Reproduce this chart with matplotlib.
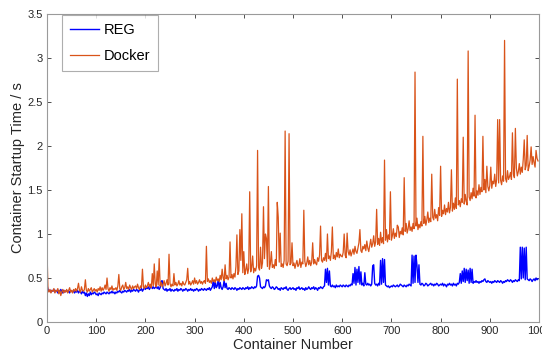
import numpy as np
import matplotlib
matplotlib.use("Agg")
import matplotlib.pyplot as plt

plt.rcParams['font.family'] = ['Liberation Sans', 'DejaVu Sans']

# container numbers (sampled every 2 containers)
containers = np.arange(0, 1000, 2)

docker = [
    0.82, 0.36, 0.34, 0.37, 0.33, 0.36, 0.35, 0.38, 0.33, 0.36,
    0.35, 0.38, 0.32, 0.36, 0.30, 0.34, 0.37, 0.33, 0.36, 0.34,
    0.37, 0.33, 0.36, 0.39, 0.34, 0.36, 0.33, 0.37, 0.35, 0.38,
    0.35, 0.38, 0.44, 0.36, 0.34, 0.40, 0.36, 0.35, 0.37, 0.48,
    0.36, 0.34, 0.38, 0.35, 0.37, 0.39, 0.34, 0.36, 0.38, 0.35,
    0.37, 0.34, 0.38, 0.36, 0.40, 0.35, 0.39, 0.36, 0.38, 0.42,
    0.37, 0.50, 0.38, 0.35, 0.39, 0.37, 0.41, 0.36, 0.38, 0.37,
    0.39, 0.36, 0.41, 0.54, 0.38, 0.36, 0.40, 0.42, 0.37, 0.39,
    0.45, 0.38, 0.40, 0.37, 0.42, 0.39, 0.37, 0.41, 0.38, 0.40,
    0.41, 0.38, 0.43, 0.39, 0.37, 0.41, 0.39, 0.60, 0.40, 0.38,
    0.42, 0.39, 0.41, 0.45, 0.40, 0.43, 0.39, 0.55, 0.41, 0.66,
    0.43, 0.40, 0.58, 0.42, 0.72, 0.41, 0.45, 0.40, 0.43, 0.47,
    0.41, 0.44, 0.48, 0.42, 0.77, 0.44, 0.40, 0.43, 0.41, 0.55,
    0.42, 0.45, 0.41, 0.43, 0.47, 0.42, 0.44, 0.41, 0.46, 0.43,
    0.42, 0.45, 0.48, 0.61, 0.43, 0.46, 0.42, 0.44, 0.47, 0.43,
    0.50, 0.44, 0.47, 0.43, 0.45, 0.48, 0.44, 0.46, 0.43, 0.46,
    0.47, 0.44, 0.86, 0.46, 0.49, 0.45, 0.47, 0.44, 0.50, 0.46,
    0.48, 0.45, 0.51, 0.47, 0.49, 0.46, 0.53, 0.48, 0.60, 0.50,
    0.47, 0.65, 0.49, 0.53, 0.48, 0.51, 0.91, 0.50, 0.54, 0.49,
    0.55, 0.51, 0.63, 0.99, 0.54, 0.58, 1.05, 0.70, 1.23, 0.56,
    0.80, 0.54, 0.59, 0.66, 0.55, 0.61, 1.48, 0.57, 0.62, 0.75,
    0.56, 0.61, 0.58, 0.64, 1.95, 0.62, 0.59, 0.85, 0.61, 0.67,
    1.31, 0.72, 1.00, 0.95, 0.63, 1.54, 0.60, 0.66, 0.80, 0.62,
    0.65, 0.61, 0.71, 0.64, 1.36, 1.19, 0.68, 1.01, 0.63, 0.66,
    0.62, 0.70, 2.17, 0.66, 0.64, 0.69, 2.14, 0.65, 0.67, 0.90,
    0.64, 0.67, 0.61, 0.66, 0.70, 0.63, 0.65, 0.72, 0.62, 0.68,
    0.66, 1.27, 0.69, 0.63, 0.67, 0.74, 0.65, 0.70, 0.64, 0.68,
    0.90, 0.66, 0.71, 0.67, 0.65, 0.73, 0.69, 0.76, 1.09, 0.70,
    0.68, 0.73, 0.70, 0.78, 0.69, 1.00, 0.72, 0.75, 0.70, 0.80,
    1.08, 0.72, 0.76, 0.71, 0.79, 0.74, 0.83, 0.73, 0.77, 0.75,
    0.74, 0.79, 1.00, 0.76, 0.73, 1.01, 0.80, 0.76, 0.82, 0.75,
    0.79, 0.83, 0.77, 0.86, 0.80, 0.78, 0.84, 0.90, 1.05, 0.81,
    0.79, 0.86, 0.83, 0.88, 0.81, 0.92, 0.84, 0.80, 0.87, 0.94,
    0.85, 0.89, 0.98, 0.86, 0.91, 1.28, 0.88, 0.95, 0.87, 1.02,
    0.90, 0.96, 0.89, 1.84, 0.93, 1.05, 0.91, 0.99, 0.94, 1.48,
    0.93, 0.98, 1.06, 0.95, 1.01, 0.97, 1.10, 1.08, 0.96, 1.03,
    1.00, 1.07, 0.99, 1.64, 1.03, 1.12, 1.01, 1.06, 1.15, 1.04,
    1.08, 1.03, 1.12, 1.06, 2.84, 1.09, 1.18, 1.05, 1.11, 1.07,
    1.14, 1.09, 2.11, 1.12, 1.20, 1.10, 1.16, 1.25, 1.13, 1.18,
    1.14, 1.68, 1.19, 1.16, 1.28, 1.18, 1.22, 1.15, 1.30, 1.21,
    1.77, 1.20, 1.27, 1.23, 1.33, 1.22, 1.29, 1.25, 1.36, 1.24,
    1.30, 1.73, 1.26, 1.35, 1.28, 1.41, 1.29, 2.76, 1.33, 1.38,
    1.31, 1.40, 1.36, 2.10, 1.34, 1.45, 1.37, 1.33, 3.08, 1.42,
    1.38, 1.47, 1.40, 1.52, 1.43, 2.35, 1.41, 1.49, 1.44, 1.56,
    1.45, 1.53, 1.48, 2.11, 1.50, 1.62, 1.47, 1.77, 1.54, 1.49,
    1.55, 1.76, 1.52, 1.60, 1.57, 1.68, 1.54, 1.62, 2.30, 1.58,
    2.30, 1.61, 1.56, 1.66, 1.60, 3.20, 1.63, 1.59, 1.72, 1.62,
    1.65, 1.70, 1.62, 2.15, 1.68, 1.64, 2.20, 1.75, 1.66, 1.71,
    1.80, 1.68, 1.76, 1.70, 1.85, 2.07, 1.73, 1.78, 2.12, 1.72,
    1.77, 1.84, 1.99, 1.79, 1.88, 1.81, 1.76, 1.95, 1.86, 1.83,
]

reg = [
    0.42, 0.37, 0.35, 0.36, 0.34, 0.36, 0.35, 0.37, 0.34, 0.36,
    0.35, 0.33, 0.36, 0.34, 0.37, 0.35, 0.33, 0.36, 0.34, 0.35,
    0.36, 0.34, 0.35, 0.33, 0.36, 0.35, 0.34, 0.36, 0.33, 0.35,
    0.34, 0.36, 0.33, 0.35, 0.34, 0.32, 0.35, 0.33, 0.34, 0.30,
    0.33, 0.29, 0.32, 0.30, 0.34, 0.31, 0.33, 0.32, 0.34, 0.33,
    0.31, 0.32, 0.30, 0.33, 0.32, 0.31, 0.33, 0.32, 0.34, 0.33,
    0.32, 0.34, 0.33, 0.32, 0.34, 0.33, 0.35, 0.33, 0.34, 0.32,
    0.34, 0.33, 0.35, 0.34, 0.36, 0.34, 0.33, 0.35, 0.34, 0.36,
    0.35, 0.34, 0.36, 0.35, 0.37, 0.34, 0.36, 0.35, 0.37, 0.36,
    0.35, 0.37, 0.36, 0.34, 0.37, 0.36, 0.38, 0.35, 0.37, 0.39,
    0.37, 0.39, 0.38, 0.40, 0.37, 0.39, 0.41, 0.38, 0.40, 0.38,
    0.39, 0.41, 0.38, 0.40, 0.37, 0.39, 0.46, 0.47, 0.38, 0.37,
    0.36, 0.38, 0.35, 0.37, 0.36, 0.38, 0.35, 0.37, 0.36, 0.35,
    0.37, 0.36, 0.38, 0.35, 0.37, 0.36, 0.38, 0.37, 0.35, 0.37,
    0.36, 0.38, 0.37, 0.35, 0.37, 0.36, 0.38, 0.36, 0.37, 0.35,
    0.37, 0.36, 0.38, 0.37, 0.35, 0.37, 0.36, 0.38, 0.37, 0.36,
    0.38, 0.37, 0.36, 0.38, 0.37, 0.39, 0.36, 0.38, 0.40, 0.47,
    0.38, 0.46, 0.39, 0.41, 0.48, 0.38, 0.45, 0.39, 0.37, 0.40,
    0.47, 0.39, 0.44, 0.38, 0.37, 0.39, 0.38, 0.37, 0.39, 0.38,
    0.37, 0.39, 0.38, 0.36, 0.38, 0.37, 0.39, 0.38, 0.37, 0.39,
    0.38, 0.37, 0.39, 0.38, 0.40, 0.37, 0.39, 0.38, 0.40, 0.39,
    0.38, 0.40, 0.39, 0.41, 0.52, 0.53, 0.50, 0.40, 0.39, 0.38,
    0.40, 0.39, 0.41, 0.48, 0.47, 0.48, 0.41, 0.39, 0.38, 0.40,
    0.39, 0.37, 0.38, 0.40, 0.39, 0.37, 0.38, 0.36, 0.39, 0.38,
    0.37, 0.39, 0.38, 0.40, 0.37, 0.36, 0.38, 0.39, 0.37, 0.38,
    0.39, 0.37, 0.38, 0.36, 0.39, 0.38, 0.40, 0.37, 0.38, 0.39,
    0.37, 0.38, 0.36, 0.39, 0.37, 0.38, 0.40, 0.38, 0.37, 0.39,
    0.38, 0.40, 0.37, 0.39, 0.38, 0.36, 0.39, 0.38, 0.40, 0.39,
    0.38, 0.40, 0.41, 0.60, 0.45, 0.61, 0.42, 0.58, 0.41, 0.40,
    0.42, 0.40, 0.41, 0.39, 0.42, 0.40, 0.41, 0.40, 0.42, 0.41,
    0.40, 0.42, 0.41, 0.40, 0.42, 0.41, 0.40, 0.42, 0.41, 0.43,
    0.42, 0.55, 0.44, 0.62, 0.42, 0.60, 0.45, 0.63, 0.43, 0.57,
    0.42, 0.44, 0.41, 0.56, 0.43, 0.42, 0.44, 0.42, 0.43, 0.41,
    0.43, 0.64, 0.65, 0.44, 0.42, 0.43, 0.41, 0.44, 0.42, 0.70,
    0.43, 0.72, 0.45, 0.71, 0.42, 0.41, 0.40, 0.41, 0.39, 0.40,
    0.41, 0.40, 0.42, 0.41, 0.40, 0.41, 0.42, 0.40, 0.41, 0.43,
    0.42, 0.41, 0.40, 0.42, 0.41, 0.40, 0.42, 0.41, 0.43, 0.42,
    0.41, 0.76, 0.44, 0.75, 0.45, 0.76, 0.64, 0.45, 0.65, 0.43,
    0.42, 0.44, 0.43, 0.41, 0.42, 0.44, 0.43, 0.41, 0.42, 0.43,
    0.44, 0.42, 0.43, 0.41, 0.43, 0.42, 0.44, 0.43, 0.41, 0.42,
    0.43, 0.42, 0.44, 0.41, 0.43, 0.42, 0.40, 0.43, 0.42, 0.44,
    0.42, 0.43, 0.41, 0.44, 0.42, 0.43, 0.41, 0.44, 0.43, 0.45,
    0.55, 0.44, 0.58, 0.46, 0.61, 0.45, 0.60, 0.47, 0.59, 0.44,
    0.61, 0.45, 0.60, 0.44, 0.46, 0.45, 0.47, 0.45, 0.46, 0.44,
    0.46, 0.45, 0.47, 0.46, 0.48, 0.49, 0.46, 0.45, 0.47, 0.46,
    0.45, 0.46, 0.44, 0.46, 0.45, 0.47, 0.46, 0.45, 0.47, 0.46,
    0.45, 0.47, 0.46, 0.44, 0.46, 0.45, 0.47, 0.46, 0.48, 0.47,
    0.46, 0.48, 0.47, 0.45, 0.47, 0.46, 0.48, 0.47, 0.46, 0.48,
    0.47, 0.85, 0.49, 0.85, 0.50, 0.84, 0.48, 0.85, 0.49, 0.48,
    0.47, 0.49, 0.48, 0.46, 0.48, 0.49, 0.47, 0.50, 0.48, 0.49,
]

series_names = ["REG", "Docker"]
x_ticks = list(range(0, 1001, 100))
y_ticks = [0, 0.5, 1, 1.5, 2, 2.5, 3, 3.5]
y_tick_labels = ["0", "0.5", "1", "1.5", "2", "2.5", "3", "3.5"]

fig = plt.figure(figsize=(5.42, 3.56), dpi=100)
ax = fig.add_axes([47 / 542, 1 - 322 / 356, (539 - 47) / 542, (322 - 14) / 356])

ax.plot(containers, reg, color="#0000FF", lw=1.0, label=series_names[0])
ax.plot(containers, docker, color="#D95319", lw=0.9, label=series_names[1])

ax.set_xlim(0, 1000)
ax.set_ylim(0, 3.5)
ax.set_xticks(x_ticks)
ax.set_yticks(y_ticks)
ax.set_yticklabels(y_tick_labels)
ax.tick_params(direction="in", top=True, right=True, length=3, width=0.6,
               color="#333333", labelsize=8, labelcolor="#262626", pad=3)
for s in ax.spines.values():
    s.set_color("#9a9a9a")
    s.set_linewidth(0.8)

ax.set_xlabel("Container Number", fontsize=10.5, color="#262626", labelpad=1)
ax.set_ylabel("Container Startup Time / s", fontsize=10.5, color="#262626", labelpad=2)

leg = ax.legend(loc="upper left", bbox_to_anchor=(15 / 492, 0.998), fontsize=10.5,
                frameon=True, fancybox=False, edgecolor="#9a9a9a",
                handlelength=2.0, handletextpad=0.3, labelspacing=0.85,
                borderpad=0.55, borderaxespad=0.0)
leg.get_frame().set_linewidth(0.8)

fig.savefig("out.png", dpi=100)
